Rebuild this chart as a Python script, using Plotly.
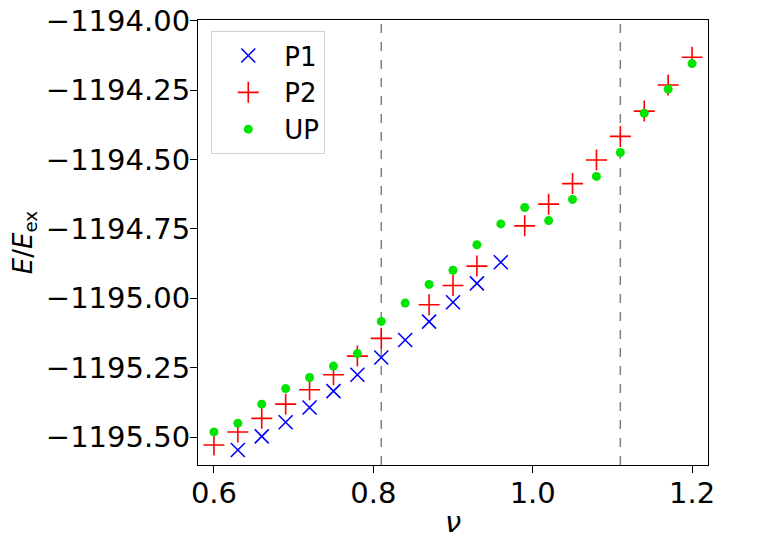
import plotly.graph_objects as go

# data
nu = [0.60, 0.63, 0.66, 0.69, 0.72, 0.75, 0.78, 0.81, 0.84, 0.87, 0.90,
      0.93, 0.96, 0.99, 1.02, 1.05, 1.08, 1.11, 1.14, 1.17, 1.20]

p1 = [None, -1195.546, -1195.497, -1195.446, -1195.393, -1195.334, -1195.275,
      -1195.213, -1195.150, -1195.084, -1195.014, -1194.946, -1194.870,
      None, None, None, None, None, None, None, None]

p2 = [-1195.528, -1195.481, -1195.432, -1195.381, -1195.329, -1195.275,
      -1195.208, -1195.144, None, -1195.023, -1194.954, -1194.884, None,
      -1194.739, -1194.661, -1194.587, -1194.502, -1194.417, -1194.326,
      -1194.232, -1194.132]

up = [-1195.481, -1195.450, -1195.381, -1195.325, -1195.285, -1195.244,
      -1195.199, -1195.083, -1195.017, -1194.950, -1194.899, -1194.807,
      -1194.732, -1194.673, -1194.720, -1194.644, -1194.561, -1194.475,
      -1194.334, -1194.247, -1194.155]

vlines = [0.81, 1.11]
x_ticks = [0.6, 0.8, 1.0, 1.2]
y_ticks = [-1195.50, -1195.25, -1195.00, -1194.75, -1194.50, -1194.25, -1194.00]

font = "DejaVu Sans"
fsize = 29

fig = go.Figure()
fig.add_trace(go.Scatter(
    x=nu, y=p1, mode="markers", name="P1",
    marker=dict(symbol="x-thin", size=14, color="#0000ff",
                line=dict(width=1.6, color="#0000ff")),
))
fig.add_trace(go.Scatter(
    x=nu, y=p2, mode="markers", name="P2",
    marker=dict(symbol="cross-thin", size=15, color="#ff0000",
                line=dict(width=1.6, color="#ff0000")),
))
fig.add_trace(go.Scatter(
    x=nu, y=up, mode="markers", name="UP",
    marker=dict(symbol="circle", size=9, color="#00e400"),
))

for v in vlines:
    fig.add_vline(x=v, opacity=1, layer="below",
                  line=dict(color="#7f7f7f", width=1.5, dash="dash"))

fig.update_xaxes(
    range=[0.58, 1.22], tickvals=x_ticks, tickformat=".1f", automargin=False,
    showline=True, linecolor="black", linewidth=1.2, mirror=True,
    ticks="outside", ticklen=7, tickcolor="black", showgrid=False, zeroline=False,
    tickfont=dict(size=fsize, color="black"), ticklabelstandoff=-5,
    title=dict(text="<i>ν</i>", font=dict(size=fsize, color="black"), standoff=12),
)
fig.update_yaxes(
    range=[-1195.6, -1193.998], tickvals=y_ticks, tickformat=".2f", automargin=False,
    showline=True, linecolor="black", linewidth=1.2, mirror=True,
    ticks="outside", ticklen=7, tickcolor="black", showgrid=False, zeroline=False,
    tickfont=dict(size=fsize, color="black"), ticklabelstandoff=-6,
    ticklabeloverflow="allow",
    title=dict(text="<i>E</i>/<i>E</i><sub>ex</sub>",
               font=dict(size=26, color="black"), standoff=36),
)
# the page adds an 8 px body margin, so the figure is drawn 8 px smaller
fig.update_layout(
    width=756, height=531,
    margin=dict(l=190, r=56, t=12, b=74),
    paper_bgcolor="white", plot_bgcolor="white",
    font=dict(family=font, color="black"),
    legend=dict(
        x=0.026, y=0.975, xanchor="left", yanchor="top",
        bgcolor="rgba(255,255,255,0.8)", bordercolor="#d0d0d0", borderwidth=1,
        font=dict(size=26, color="black"), itemwidth=62,
    ),
)

fig.write_html("out.html")
